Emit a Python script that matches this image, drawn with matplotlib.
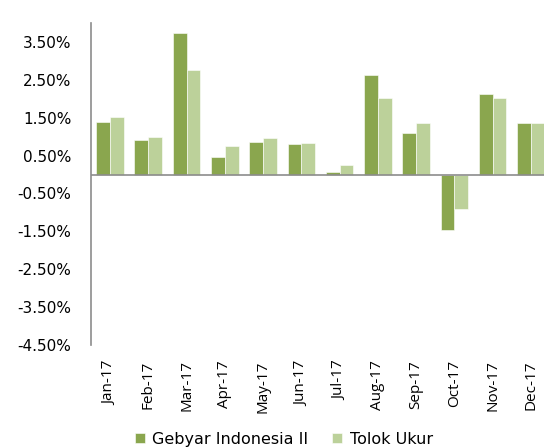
import numpy as np
import matplotlib
matplotlib.use('Agg')
import matplotlib.pyplot as plt
from matplotlib.ticker import FuncFormatter

months = ['Jan-17', 'Feb-17', 'Mar-17', 'Apr-17', 'May-17', 'Jun-17',
          'Jul-17', 'Aug-17', 'Sep-17', 'Oct-17', 'Nov-17', 'Dec-17']
gebyar = [1.39, 0.91, 3.73, 0.46, 0.86, 0.81, 0.07, 2.62, 1.10, -1.47, 2.12, 1.35]
tolok = [1.53, 1.00, 2.76, 0.74, 0.97, 0.84, 0.26, 2.03, 1.37, -0.92, 2.03, 1.35]
series_names = ['Gebyar Indonesia II', 'Tolok Ukur']
yticks = [-4.5, -3.5, -2.5, -1.5, -0.5, 0.5, 1.5, 2.5, 3.5]

plt.rcParams['font.family'] = ['DejaVu Sans']

fig = plt.figure(figsize=(5.44, 4.48), dpi=100)
ax = fig.add_axes([0.1673, 0.2299, 0.8327, 0.7188])

x = np.arange(len(months))
w = 0.36
ax.bar(x - w / 2, gebyar, w, color='#8AA64E', edgecolor='white', linewidth=0.4,
       label=series_names[0], zorder=2)
ax.bar(x + w / 2, tolok, w, color='#BCD19A', edgecolor='white', linewidth=0.4,
       label=series_names[1], zorder=2)

ax.set_xlim(-0.496, 11.34)
ax.set_ylim(-4.5, 4.0)
ax.axhline(0, color='#8C8C8C', linewidth=1.2, zorder=3)

for s in ['top', 'right', 'bottom']:
    ax.spines[s].set_visible(False)
ax.spines['left'].set_color('#8C8C8C')
ax.spines['left'].set_linewidth(1.2)

ax.set_yticks(yticks)
ax.yaxis.set_major_formatter(FuncFormatter(lambda v, p: f'{v:.2f}%'))
ax.set_xticks(x)
ax.set_xticklabels(months, rotation=90,
                   fontfamily=['Liberation Sans Narrow', 'Open Sans'], fontsize=11)
ax.tick_params(axis='y', length=0, pad=14, labelsize=11)
ax.tick_params(axis='x', length=0, pad=11)

fig.legend(loc='center left', bbox_to_anchor=(135 / 544, 1 - 439 / 448), ncol=2,
           frameon=False, fontsize=11.5, handlelength=0.63, handleheight=0.63,
           handletextpad=0.45, columnspacing=1.5, borderpad=0, borderaxespad=0)

fig.savefig('out.png', dpi=100)
